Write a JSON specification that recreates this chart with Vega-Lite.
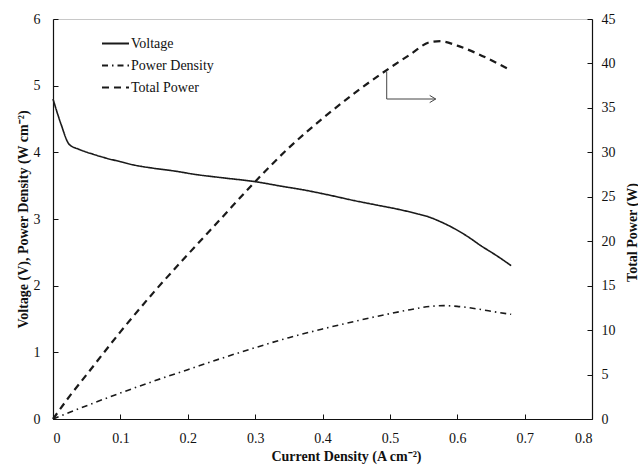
{
  "$schema": "https://vega.github.io/schema/vega-lite/v6.json",
  "width": 539,
  "height": 400,
  "autosize": {"type": "none"},
  "padding": {"left": 53, "top": 19, "right": 46, "bottom": 46},
  "background": "white",
  "config": {
    "font": "Liberation Serif",
    "view": {"stroke": "#c8c8c8", "strokeWidth": 1},
    "axis": {
      "grid": false,
      "domainColor": "#111111",
      "domainWidth": 1.2,
      "tickColor": "#111111",
      "tickSize": -5,
      "tickWidth": 1,
      "labelFont": "Liberation Serif",
      "labelFontSize": 14,
      "labelColor": "#111111",
      "titleFont": "Liberation Serif",
      "titleFontSize": 14,
      "titleFontWeight": "bold",
      "titleColor": "#111111"
    }
  },
  "datasets": {
    "series": [
      {"series": "Voltage", "x": 0, "value": 4.8},
      {"series": "Voltage", "x": 0.012, "value": 4.42},
      {"series": "Voltage", "x": 0.024, "value": 4.12},
      {"series": "Voltage", "x": 0.04, "value": 4.04},
      {"series": "Voltage", "x": 0.06, "value": 3.97},
      {"series": "Voltage", "x": 0.08, "value": 3.91},
      {"series": "Voltage", "x": 0.1, "value": 3.86},
      {"series": "Voltage", "x": 0.12, "value": 3.81},
      {"series": "Voltage", "x": 0.15, "value": 3.76},
      {"series": "Voltage", "x": 0.18, "value": 3.72},
      {"series": "Voltage", "x": 0.21, "value": 3.67},
      {"series": "Voltage", "x": 0.25, "value": 3.62},
      {"series": "Voltage", "x": 0.3, "value": 3.56},
      {"series": "Voltage", "x": 0.34, "value": 3.49},
      {"series": "Voltage", "x": 0.37, "value": 3.44},
      {"series": "Voltage", "x": 0.4, "value": 3.38},
      {"series": "Voltage", "x": 0.45, "value": 3.27},
      {"series": "Voltage", "x": 0.48, "value": 3.21},
      {"series": "Voltage", "x": 0.515, "value": 3.14},
      {"series": "Voltage", "x": 0.54, "value": 3.08},
      {"series": "Voltage", "x": 0.555, "value": 3.04},
      {"series": "Voltage", "x": 0.575, "value": 2.96},
      {"series": "Voltage", "x": 0.595, "value": 2.86},
      {"series": "Voltage", "x": 0.615, "value": 2.74},
      {"series": "Voltage", "x": 0.635, "value": 2.6},
      {"series": "Voltage", "x": 0.66, "value": 2.44},
      {"series": "Voltage", "x": 0.68, "value": 2.3},
      {"series": "Power Density", "x": 0, "value": 0},
      {"series": "Power Density", "x": 0.025, "value": 0.1},
      {"series": "Power Density", "x": 0.05, "value": 0.2},
      {"series": "Power Density", "x": 0.1, "value": 0.39},
      {"series": "Power Density", "x": 0.15, "value": 0.57},
      {"series": "Power Density", "x": 0.2, "value": 0.74},
      {"series": "Power Density", "x": 0.25, "value": 0.91},
      {"series": "Power Density", "x": 0.3, "value": 1.07},
      {"series": "Power Density", "x": 0.35, "value": 1.22},
      {"series": "Power Density", "x": 0.4, "value": 1.35},
      {"series": "Power Density", "x": 0.45, "value": 1.47},
      {"series": "Power Density", "x": 0.5, "value": 1.58},
      {"series": "Power Density", "x": 0.53, "value": 1.64},
      {"series": "Power Density", "x": 0.56, "value": 1.69},
      {"series": "Power Density", "x": 0.58, "value": 1.7},
      {"series": "Power Density", "x": 0.6, "value": 1.69},
      {"series": "Power Density", "x": 0.63, "value": 1.65},
      {"series": "Power Density", "x": 0.66, "value": 1.6},
      {"series": "Power Density", "x": 0.68, "value": 1.57},
      {"series": "Total Power", "x": 0, "value": 0},
      {"series": "Total Power", "x": 0.025, "value": 2.6},
      {"series": "Total Power", "x": 0.05, "value": 5.0},
      {"series": "Total Power", "x": 0.1, "value": 9.8},
      {"series": "Total Power", "x": 0.15, "value": 14.3},
      {"series": "Total Power", "x": 0.2, "value": 18.5},
      {"series": "Total Power", "x": 0.25, "value": 22.6},
      {"series": "Total Power", "x": 0.3, "value": 26.7},
      {"series": "Total Power", "x": 0.35, "value": 30.5},
      {"series": "Total Power", "x": 0.4, "value": 33.8},
      {"series": "Total Power", "x": 0.45, "value": 36.8},
      {"series": "Total Power", "x": 0.5, "value": 39.5},
      {"series": "Total Power", "x": 0.53, "value": 41.0},
      {"series": "Total Power", "x": 0.56, "value": 42.4},
      {"series": "Total Power", "x": 0.575, "value": 42.5},
      {"series": "Total Power", "x": 0.6, "value": 42.0},
      {"series": "Total Power", "x": 0.63, "value": 41.1},
      {"series": "Total Power", "x": 0.66, "value": 40.0},
      {"series": "Total Power", "x": 0.68, "value": 39.2}
    ],
    "arrow": [
      {"x": 0.4953, "y": 5.21, "x2": 0.4953, "y2": 4.8},
      {"x": 0.4953, "y": 4.8, "x2": 0.568, "y2": 4.8}
    ],
    "head": [
      {"x": 0.568, "y": 4.8}
    ]
  },
  "layer": [
    {
      "layer": [
        {
          "data": {"name": "series"},
          "transform": [{"filter": "datum.series !== 'Total Power'"}],
          "mark": {"type": "line", "strokeWidth": 1.6, "color": "#1a1a1a", "interpolate": "monotone"},
          "encoding": {
            "x": {
              "field": "x", "type": "quantitative",
              "scale": {"domain": [0, 0.8], "nice": false},
              "axis": {
                "values": [0, 0.1, 0.2, 0.3, 0.4, 0.5, 0.6, 0.7, 0.8],
                "format": "~g",
                "labelPadding": 17,
                "title": "Current Density (A cm⁻²)",
                "titleX": 293,
                "titleY": 30,
                "titleAlign": "center",
                "titleBaseline": "top"
              }
            },
            "y": {
              "field": "value", "type": "quantitative",
              "scale": {"domain": [0, 6], "nice": false},
              "axis": {
                "values": [0, 1, 2, 3, 4, 5, 6],
                "format": "d",
                "labelPadding": 18,
                "title": "Voltage (V), Power Density (W cm⁻²)",
                "titleAngle": -90,
                "titleX": -23,
                "titleY": 200,
                "titleAlign": "center",
                "titleBaseline": "bottom"
              }
            },
            "strokeDash": {
              "field": "series", "type": "nominal",
              "scale": {
                "domain": ["Voltage", "Power Density", "Total Power"],
                "range": [[1, 0], [6, 4, 1.5, 4], [7, 5]]
              },
              "legend": {
                "title": null,
                "orient": "none",
                "legendX": 48,
                "legendY": 10,
                "symbolType": "stroke",
                "symbolSize": 729,
                "symbolStrokeWidth": 1.8,
                "symbolStrokeColor": "#1a1a1a",
                "labelFont": "Liberation Serif",
                "labelFontSize": 14,
                "labelColor": "#111111",
                "labelOffset": 1,
                "rowPadding": 0
              }
            }
          }
        },
        {
          "data": {"name": "arrow"},
          "mark": {"type": "rule", "color": "#444444", "strokeWidth": 1},
          "encoding": {
            "x": {"field": "x", "type": "quantitative"},
            "x2": {"field": "x2"},
            "y": {"field": "y", "type": "quantitative"},
            "y2": {"field": "y2"}
          }
        },
        {
          "data": {"name": "head"},
          "mark": {"type": "point", "shape": "M-1,-0.6L0,0L-1,0.6", "filled": false, "size": 144, "stroke": "#444444", "strokeWidth": 1, "opacity": 1},
          "encoding": {
            "x": {"field": "x", "type": "quantitative"},
            "y": {"field": "y", "type": "quantitative"}
          }
        }
      ]
    },
    {
      "data": {"name": "series"},
      "transform": [{"filter": "datum.series === 'Total Power'"}],
      "mark": {"type": "line", "strokeWidth": 2.2, "color": "#1a1a1a", "interpolate": "monotone"},
      "encoding": {
        "x": {"field": "x", "type": "quantitative"},
        "y": {
          "field": "value", "type": "quantitative",
          "scale": {"domain": [0, 45], "nice": false},
          "axis": {
            "orient": "right",
            "values": [0, 5, 10, 15, 20, 25, 30, 35, 40, 45],
            "labelPadding": 14,
            "title": "Total Power (W)",
            "titleAngle": -90,
            "titleX": 33,
            "titleY": 213,
            "titleAlign": "center",
            "titleBaseline": "top"
          }
        },
        "strokeDash": {"field": "series", "type": "nominal"}
      }
    }
  ],
  "resolve": {"scale": {"y": "independent"}}
}
